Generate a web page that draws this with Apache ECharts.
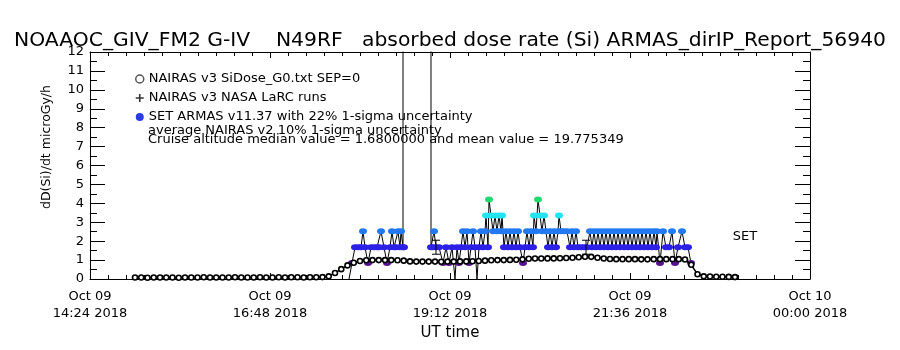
<!DOCTYPE html>
<html>
<head>
<meta charset="utf-8">
<script src="https://cdn.jsdelivr.net/npm/echarts@6/dist/echarts.min.js"></script>
<style>html,body{margin:0;padding:0;background:#fff}#chart{width:900px;height:350px}</style>
</head>
<body>
<div id="chart"></div>
<script>
// ---- data (times in minutes after 00:00 UT, Oct 09 2018) ----
const xTickLabels = ['Oct 09\n14:24 2018', 'Oct 09\n16:48 2018', 'Oct 09\n19:12 2018', 'Oct 09\n21:36 2018', 'Oct 10\n00:00 2018'];
const yTickLabels = ['0','1','2','3','4','5','6','7','8','9','10','11','12'];

const seriesNames = [
  'NAIRAS v3 SiDose_G0.txt SEP=0',
  'NAIRAS v3 NASA LaRC runs',
  'SET ARMAS v11.37 with 22% 1-sigma uncertainty'
];
const noteLines = [
  'average NAIRAS v2 10% 1-sigma uncertainty',
  'Cruise altitude median value = 1.6800000 and mean value = 19.775349'
];

const nairasTime = [900,905,910,915,920,925,930,935,940,945,950,955,960,965,970,975,980,985,990,995,
  1000,1005,1010,1015,1020,1025,1030,1035,1040,1045,1050,1055,1060,1065,1070,1075,1080,1085,1090,1095,
  1100,1105,1110,1115,1120,1125,1130,1135,1140,1145,1150,1155,1160,1165,1170,1175,1180,1185,1190,1195,
  1200,1205,1210,1215,1220,1225,1230,1235,1240,1245,1250,1255,1260,1265,1270,1275,1280,1285,1290,1295,
  1300,1305,1310,1315,1320,1325,1330,1335,1340,1345,1350,1355,1360,1365,1370,1375,1380];
const nairasDose = [0.08,0.08,0.07,0.08,0.08,0.08,0.08,0.07,0.08,0.08,0.08,0.09,0.08,0.08,0.08,0.08,0.09,0.08,0.08,0.08,
  0.09,0.08,0.08,0.09,0.08,0.09,0.09,0.08,0.09,0.09,0.1,
  0.14,0.32,0.52,0.72,0.86,0.95,0.99,1.0,1.0,1.0,1.0,0.99,
  0.97,0.93,0.92,0.92,0.92,0.92,0.91,0.92,0.92,0.93,0.93,0.94,0.95,0.97,
  0.99,1.0,1.0,1.01,1.02,1.04,1.07,1.08,1.08,1.09,1.09,1.1,1.11,1.12,1.15,1.18,
  1.17,1.12,1.08,1.06,1.05,1.05,1.05,1.05,1.04,1.04,1.05,1.05,1.05,1.05,1.05,1.03,
  0.75,0.25,0.14,0.13,0.12,0.12,0.11,0.1];

const larcTime = [];
const larcDose = [];

const armasTime = [
  1071.2,1073.6,1076.0,1078.4,1080.8,1082.4,1084.0,1086.4,1088.8,1091.2,1093.6,1095.2,1096.8,1099.2,1101.6,1104.0,1105.6,1107.2,1108.8,1110.4,1112.0,1112.8,1114.4,1115.2,
  1116.0,1136.0,
  1136.8,1138.4,1139.2,1140.8,1143.2,
  1146.4,1148.8,1151.2,1153.6,1156.0,1157.6,1159.2,1160.8,
  1162.4,1164.0,1165.6,1167.2,1168.8,1170.4,1172.0,1173.6,
  1175.2,1176.8,1178.4,1180.0,1180.8,1182.4,
  1183.2,1184.8,1186.4,1188.0,1189.6,1191.2,1192.8,1193.6,
  1195.2,1196.8,1198.4,1200.0,1201.6,1203.2,1204.8,1206.4,1208.0,
  1210.4,1212.0,1213.6,1215.2,1216.8,1218.4,
  1219.2,1220.8,1222.4,1224.0,1225.6,1227.2,1228.8,
  1230.4,1232.0,1233.6,1235.2,1236.8,1238.4,1239.2,
  1240.8,1243.2,1245.6,
  1248.0,1249.6,1251.2,1252.8,
  1254.4,1256.8,1259.2,1261.6,
  1264.0,1265.6,1267.2,1268.8,1270.4,1272.0,1273.6,1275.2,1276.8,1278.4,1280.0,1281.6,1283.2,1284.8,1286.4,1288.0,1289.6,
  1291.2,1292.8,1294.4,1296.0,1297.6,1299.2,1300.8,1302.4,1304.0,1305.6,1307.2,1308.8,1310.4,1312.0,1313.6,1315.2,1316.8,1317.6,
  1320.0,1322.4,1324.8,1327.2,1329.6,1332.0,1334.4,1337.6,1340.0,1342.4,1344.8];
const armasDose = [
  0,0.84,1.68,1.68,1.68,2.52,1.68,0.84,1.68,1.68,1.68,1.68,2.52,1.68,0.84,1.68,2.52,1.68,1.68,2.52,1.68,2.52,1.68,1.68,
  3900,3900,
  1.68,1.68,2.52,1.68,1.68,
  0.84,1.68,0.84,1.68,0,1.68,0.84,1.68,
  2.52,1.68,2.52,0.84,1.68,2.52,1.68,0,
  1.68,2.52,1.68,2.52,3.36,1.68,
  4.2,3.36,2.52,3.36,2.52,3.36,2.52,3.36,
  1.68,2.52,1.68,2.52,1.68,2.52,1.68,2.52,1.68,
  0.84,1.68,2.52,1.68,2.52,1.68,
  3.36,2.52,4.2,3.36,2.52,3.36,2.52,
  1.68,2.52,1.68,2.52,1.68,2.52,3.36,
  2.52,2.52,2.52,
  1.68,2.52,1.68,2.52,
  1.68,1.68,1.68,1.68,
  2.52,1.68,2.52,1.68,2.52,1.68,2.52,1.68,2.52,1.68,2.52,1.68,2.52,1.68,2.52,1.68,2.52,
  1.68,2.52,1.68,2.52,1.68,2.52,1.68,2.52,1.68,2.52,1.68,2.52,1.68,2.52,1.68,2.52,1.68,2.52,
  0.84,2.52,1.68,1.68,2.52,0.84,1.68,2.52,1.68,1.68,0.84];

const errTime = [1140.8, 1260.8];
const errLow  = [1.31, 1.31];
const errHigh = [2.05, 2.05];

// ---- styling helpers ----
const FONT = 'DejaVu Sans';
function armasColor(v) {
  if (v < 0.4) return '#000000';
  if (v < 1.2) return '#58128f';
  if (v < 2.1) return '#2c20e6';
  if (v < 2.9) return '#2279f2';
  if (v < 3.8) return '#22e4f2';
  return '#20da70';
}
const plusIcon = 'path://M4,0h2v4h4v2h-4v4h-2v-4h-4v-2h4z';

const chart = echarts.init(document.getElementById('chart'), null, {renderer: 'canvas'});

const xCommon = {
  type: 'value', min: 864, max: 1440, interval: 144,
  axisLine: {show: true, onZero: false, lineStyle: {color: '#000', width: 1}},
  axisTick: {show: true, inside: true, length: 6, lineStyle: {color: '#000'}},
  minorTick: {show: true, splitNumber: 10, length: 4, lineStyle: {color: '#000'}},
  splitLine: {show: false}, minorSplitLine: {show: false}
};
const yCommon = {
  type: 'value', min: 0, max: 12, interval: 1,
  axisLine: {show: true, onZero: false, lineStyle: {color: '#000', width: 1}},
  axisTick: {show: true, inside: true, length: 15, lineStyle: {color: '#000'}},
  minorTick: {show: true, splitNumber: 2, length: 7, lineStyle: {color: '#000'}},
  splitLine: {show: false}, minorSplitLine: {show: false}
};

const option = {
  animation: false,
  backgroundColor: '#fff',
  title: {
    text: 'NOAAOC_GIV_FM2 G-IV    N49RF   absorbed dose rate (Si) ARMAS_dirIP_Report_56940',
    left: 'center', top: 26,
    textStyle: {fontFamily: FONT, fontSize: 20.3, fontWeight: 'normal', color: '#000'}
  },
  grid: {left: 90, right: 90, top: 52, bottom: 71, containLabel: false},
  legend: {
    orient: 'vertical', left: 130, top: 67, itemWidth: 8, itemHeight: 8, itemGap: 5,
    selectedMode: false,
    textStyle: {fontFamily: FONT, fontSize: 13, color: '#000', lineHeight: 14},
    data: [
      {name: seriesNames[0], icon: 'circle', itemStyle: {color: '#fff', borderColor: '#555', borderWidth: 1.5}},
      {name: seriesNames[1], icon: plusIcon, itemStyle: {color: '#000'}},
      {name: seriesNames[2], icon: 'circle', itemStyle: {color: '#2a3ce0'}}
    ]
  },
  xAxis: [
    Object.assign({}, xCommon, {
      position: 'bottom',
      axisLabel: {
        show: true, margin: 9, color: '#000', fontFamily: FONT, fontSize: 13, lineHeight: 17,
        showMinLabel: true, showMaxLabel: true,
        formatter: v => xTickLabels[Math.round((v - 864) / 144)] || ''
      }
    }),
    Object.assign({}, xCommon, {position: 'top', axisLabel: {show: false}})
  ],
  yAxis: [
    Object.assign({}, yCommon, {
      position: 'left',
      axisLabel: {show: true, margin: 6, color: '#000', fontFamily: FONT, fontSize: 13,
        formatter: v => yTickLabels[Math.round(v)] || ''}
    }),
    Object.assign({}, yCommon, {position: 'right', axisLabel: {show: false}})
  ],
  graphic: [
    {type: 'text', x: 47, y: 147, rotation: Math.PI / 2,
      style: {text: 'dD(Si)/dt microGy/h', fontFamily: FONT, fontSize: 12.5, fill: '#000', textAlign: 'center', textVerticalAlign: 'middle'}},
    {type: 'text', x: 450, y: 333,
      style: {text: 'UT time', fontFamily: FONT, fontSize: 15, fill: '#000', textAlign: 'center', textVerticalAlign: 'middle'}},
    {type: 'text', x: 745, y: 237,
      style: {text: 'SET', fontFamily: FONT, fontSize: 13, fill: '#000', textAlign: 'center', textVerticalAlign: 'middle'}},
    {type: 'text', x: 148, y: 131,
      style: {text: noteLines[0], fontFamily: FONT, fontSize: 13, fill: '#000', textAlign: 'left', textVerticalAlign: 'middle'}},
    {type: 'text', x: 148, y: 139.5,
      style: {text: noteLines[1], fontFamily: FONT, fontSize: 13, fill: '#000', textAlign: 'left', textVerticalAlign: 'middle'}}
  ],
  series: [
    {
      name: seriesNames[2], type: 'line', xAxisIndex: 0, yAxisIndex: 0, z: 2,
      clip: true, showAllSymbol: true, symbol: 'circle', symbolSize: [8, 6],
      lineStyle: {color: '#000', width: 1},
      itemStyle: {color: '#2a3ce0'},
      data: armasTime.map((t, i) => ({
        value: [t, armasDose[i]],
        symbolSize: armasDose[i] < 0.4 ? 0 : [8, 6],
        itemStyle: {color: armasColor(armasDose[i])}
      }))
    },
    {
      name: seriesNames[0], type: 'line', xAxisIndex: 0, yAxisIndex: 0, z: 3,
      clip: true, showAllSymbol: true, symbol: 'circle', symbolSize: 5,
      lineStyle: {color: '#000', width: 1.5},
      itemStyle: {color: '#fff', borderColor: '#000', borderWidth: 1.6},
      data: nairasTime.map((t, i) => [t, nairasDose[i]])
    },
    {
      name: seriesNames[1], type: 'scatter', xAxisIndex: 0, yAxisIndex: 0,
      symbol: plusIcon, symbolSize: 7, itemStyle: {color: '#000'},
      data: larcTime.map((t, i) => [t, larcDose[i]])
    },
    {
      type: 'custom', xAxisIndex: 0, yAxisIndex: 0, z: 4, silent: true,
      data: errTime.map((t, i) => [t, errLow[i], errHigh[i]]),
      encode: {x: 0, y: [1, 2]},
      renderItem: function (params, api) {
        const lo = api.coord([api.value(0), api.value(1)]);
        const hi = api.coord([api.value(0), api.value(2)]);
        const hw = 4;
        const st = {stroke: '#000', lineWidth: 1};
        return {type: 'group', children: [
          {type: 'line', shape: {x1: lo[0], y1: lo[1], x2: hi[0], y2: hi[1]}, style: st},
          {type: 'line', shape: {x1: lo[0] - hw, y1: lo[1], x2: lo[0] + hw, y2: lo[1]}, style: st},
          {type: 'line', shape: {x1: hi[0] - hw, y1: hi[1], x2: hi[0] + hw, y2: hi[1]}, style: st}
        ]};
      }
    }
  ]
};
chart.setOption(option);
</script>
</body>
</html>
